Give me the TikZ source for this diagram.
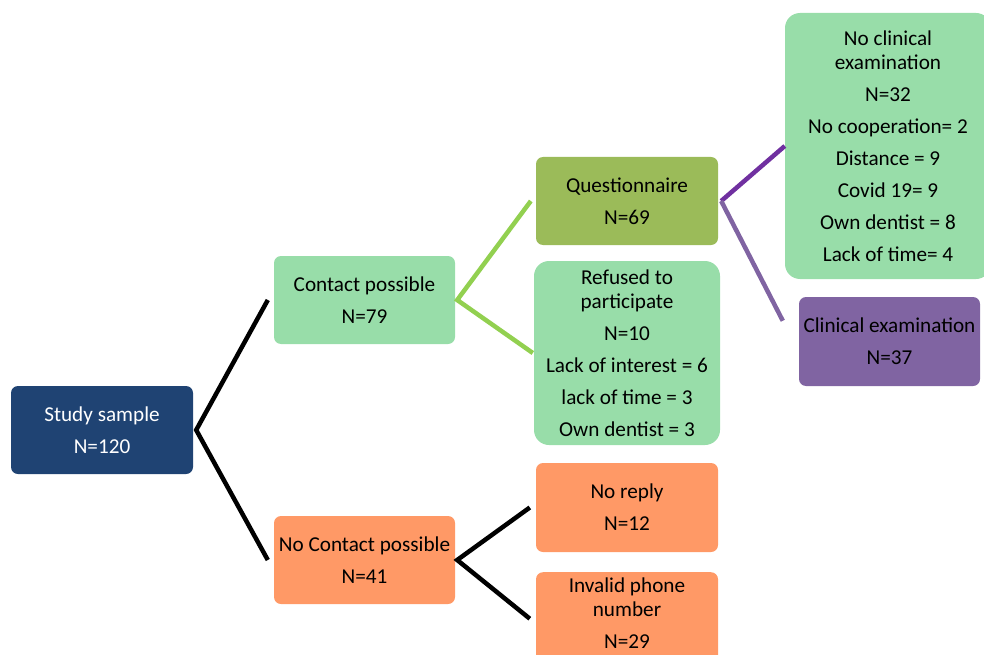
\documentclass[tikz,border=0pt]{standalone}
\usepackage{fontspec}
\setmainfont{Carlito}

\definecolor{sampleblue}{HTML}{1F4373}
\definecolor{lightgreen}{HTML}{98DDA9}
\definecolor{olivegreen}{HTML}{9BBB59}
\definecolor{softorange}{HTML}{FF9966}
\definecolor{softpurple}{HTML}{8064A2}
\definecolor{darkpurple}{HTML}{7030A0}
\definecolor{limegreen}{HTML}{92D050}

\tikzset{
    box/.style={rounded corners=7pt, align=center, inner sep=0pt,
        minimum width=182pt, minimum height=88pt,
        font=\fontsize{21.2}{24}\selectfont},
    bigbox/.style={box, rounded corners=15pt},
    branch/.style={line width=4.5pt}
}

\begin{document}
\begin{tikzpicture}[x=1pt,y=-1pt]
    \useasboundingbox (0,0) rectangle (984,655);
    \clip (0,0) rectangle (984,655);

    % Study sample
    \node[box,fill=sampleblue,text=white] (study) at (102,430) {Study sample\\[8pt]N=120};

    % first split
    \node[box,fill=lightgreen,minimum width=181pt] (contact) at (364.5,300) {Contact possible\\[8pt]N=79};
    \node[box,fill=softorange,minimum width=181pt] (nocontact) at (364.5,560) {No Contact possible\\[8pt]N=41};

    % contact possible
    \node[box,fill=olivegreen] (quest) at (627,201) {Questionnaire\\[8pt]N=69};
    \node[bigbox,fill=lightgreen,minimum width=186pt,minimum height=184pt] (refused) at (627,353)
        {Refused to\\participate\\[8pt]N=10\\[8pt]Lack of interest = 6\\[8pt]lack of time = 3\\[8pt]Own dentist = 3};

    % no contact possible
    \node[box,fill=softorange,minimum height=89pt] (noreply) at (627,507.5) {No reply\\[8pt]N=12};
    \node[box,fill=softorange,minimum height=93pt,text depth=12pt,anchor=north] (invalid) at (627,572) {Invalid phone\\number\\[8pt]N=29};

    % questionnaire
    \node[bigbox,fill=lightgreen,minimum width=206pt,minimum height=266pt] (noclin) at (888,146)
        {No clinical\\examination\\[8pt]N=32\\[8pt]No cooperation= 2\\[8pt]Distance = 9\\[8pt]Covid 19= 9\\[8pt]Own dentist = 8\\[8pt]Lack of time= 4};
    \node[box,fill=softpurple,minimum width=181pt,minimum height=89pt] (clin) at (889.5,341.5) {Clinical examination\\[8pt]N=37};

    % branches
    \draw[branch] ([xshift=-6pt]contact.west) -- ([xshift=3pt]study.east) -- ([xshift=-6pt]nocontact.west);
    \draw[branch,color=limegreen] ([xshift=-5pt]quest.west) -- ([xshift=2pt]contact.east) -- ([xshift=-1pt]refused.west);
    \draw[branch] ([xshift=-6pt]noreply.west) -- ([xshift=2pt]nocontact.east) -- ([xshift=-6pt]invalid.west);
    \draw[branch,color=darkpurple] ([xshift=3pt]quest.east) -- (noclin.west);
    \draw[branch,color=softpurple] ([xshift=3pt]quest.east) -- ([xshift=-16pt,yshift=-24pt]clin.north west);
\end{tikzpicture}
\end{document}
